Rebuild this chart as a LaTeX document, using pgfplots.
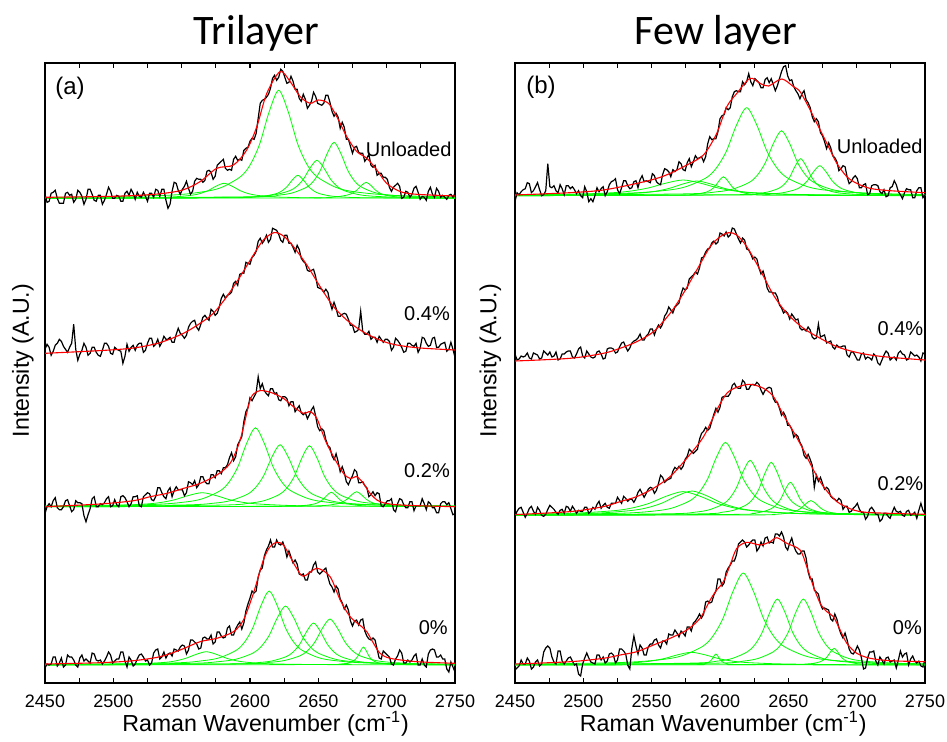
\documentclass[border=0pt]{standalone}
\usepackage{pgfplots}
\pgfplotsset{compat=1.18}
\usepackage{pgfplotstable}
\usepackage{fontspec}
\setmainfont{Liberation Sans}
\newfontfamily\titlefont{Carlito}
\definecolor{compgreen}{RGB}{0,255,0}

% measured spectra, px above each trace's baseline: a=Unloaded b=0.4% c=0.2% d=0%
\pgfplotstableread{
x a b c d
2450 4 4 -7 -3
2451.5 -4 9 0 1
2453 -3 6 3 0
2454.5 5 -2 0 1
2456 6 2 6 8
2457.5 8 8 9 8
2459 0 10 -1 -1
2460.5 -5 14 -3 2
2462 -5 12 -3 7
2463.5 -5 7 0 -2
2465 5 4 6 0
2466.5 6 1 7 10
2468 3 6 1 8
2469.5 4 10 -5 8
2471 -4 29 -3 5
2472.5 -1 4 6 0
2474 8 -7 4 -2
2475.5 6 -1 4 7
2477 2 3 3 10
2478.5 -6 10 -9 4
2480 -1 6 -15 6
2481.5 9 -2 -8 4
2483 9 0 -2 2
2484.5 4 6 8 12
2486 -2 6 10 11
2487.5 -3 1 0 5
2489 3 -2 0 4
2490.5 3 -3 3 5
2492 -6 3 2 1
2493.5 -2 10 4 4
2495 4 10 8 8
2496.5 11 7 10 13
2498 7 0 0 10
2499.5 0 -1 1 2
2501 0 6 7 4
2502.5 3 4 2 6
2504 2 3 0 6
2505.5 -3 2 10 13
2507 -3 -10 11 13
2508.5 5 -3 9 4
2510 7 9 5 -2
2511.5 3 2 0 8
2513 9 6 3 5
2514.5 5 8 10 -1
2516 -1 3 10 1
2517.5 6 8 11 6
2519 2 10 1 10
2520.5 1 10 0 11
2522 6 1 10 8
2523.5 2 3 12 4
2525 -3 10 14 5
2526.5 5 15 13 0
2528 5 15 7 2
2529.5 1 7 6 12
2531 9 9 10 15
2532.5 8 14 19 16
2534 2 7 19 6
2535.5 9 11 14 8
2537 9 17 10 13
2538.5 -2 14 8 7
2540 -10 14 16 11
2541.5 -6 16 19 12
2543 7 11 10 9
2544.5 16 11 16 16
2546 15 19 20 15
2547.5 8 25 17 14
2549 4 20 17 18
2550.5 9 18 17 20
2552 12 15 11 19
2553.5 17 18 14 11
2555 10 26 25 15
2556.5 4 30 24 25
2558 7 32 22 25
2559.5 17 33 26 23
2561 20 26 19 21
2562.5 19 23 22 16
2564 19 29 30 17
2565.5 16 36 30 27
2567 18 38 25 28
2568.5 27 35 23 26
2570 28 33 23 26
2571.5 26 44 32 30
2573 19 42 32 21
2574.5 22 38 29 23
2576 33 40 36 33
2577.5 35 46 36 33
2579 37 55 33 29
2580.5 39 59 39 27
2582 30 55 39 28
2583.5 28 58 42 37
2585 29 59 49 39
2586.5 28 61 54 30
2588 39 70 46 30
2589.5 42 72 50 36
2591 38 68 62 40
2592.5 39 79 66 43
2594 38 80 70 36
2595.5 48 80 85 42
2597 50 91 95 54
2598.5 51 90 99 61
2600 57 89 109 67
2601.5 60 96 106 74
2603 59 98 110 72
2604.5 65 102 114 74
2606 80 112 130 88
2607.5 95 115 118 95
2609 98 110 123 97
2610.5 99 113 116 109
2612 101 118 113 115
2613.5 104 111 111 119
2615 110 114 118 125
2616.5 120 125 118 118
2618 123 124 113 118
2619.5 118 123 114 125
2621 121 119 107 121
2622.5 129 113 106 120
2624 127 111 110 123
2625.5 121 118 110 117
2627 115 118 108 108
2628.5 116 110 101 114
2630 122 110 105 108
2631.5 117 106 105 102
2633 109 101 95 105
2634.5 109 108 98 101
2636 100 104 101 91
2637.5 97 95 94 90
2639 104 92 92 91
2640.5 99 90 94 85
2642 90 83 88 85
2643.5 93 82 92 93
2645 97 83 97 93
2646.5 106 84 100 100
2648 102 77 91 103
2649.5 95 66 80 93
2651 94 65 76 91
2652.5 93 64 78 93
2654 95 61 76 95
2655.5 103 64 67 97
2657 103 61 61 88
2658.5 96 51 59 81
2660 87 44 51 78
2661.5 82 51 47 73
2663 85 45 53 79
2664.5 81 37 45 76
2666 70 37 35 66
2667.5 76 39 40 62
2669 71 40 34 56
2670.5 59 39 25 60
2672 59 34 22 55
2673.5 52 28 27 44
2675 45 28 31 39
2676.5 51 21 37 44
2678 52 22 35 45
2679.5 46 24 24 40
2681 45 42 24 45
2682.5 45 22 25 46
2684 37 19 21 34
2685.5 40 19 19 29
2687 44 22 10 26
2688.5 33 14 12 25
2690 31 16 15 27
2691.5 33 16 11 25
2693 23 11 14 16
2694.5 25 17 13 7
2696 25 14 1 6
2697.5 21 11 0 14
2699 21 14 3 12
2700.5 19 14 6 10
2702 11 12 6 8
2703.5 7 3 8 1
2705 11 6 -3 0
2706.5 13 15 -5 6
2708 15 13 3 9
2709.5 12 10 8 15
2711 0 6 7 12
2712.5 1 1 2 2
2714 7 2 -1 2
2715.5 6 10 -1 5
2717 1 10 5 3
2718.5 4 8 5 5
2720 10 7 -4 9
2721.5 12 10 1 11
2723 6 1 1 0
2724.5 -1 5 1 0
2726 2 16 8 6
2727.5 1 15 3 0
2729 -2 10 -3 -2
2730.5 7 7 5 11
2732 11 8 3 15
2733.5 4 15 -1 16
2735 1 16 -1 15
2736.5 10 6 -6 8
2738 7 6 -6 8
2739.5 1 9 3 10
2741 3 10 5 6
2742.5 1 11 5 6
2744 -1 2 2 -4
2745.5 3 4 4 -7
2747 4 11 -2 3
2748.5 1 4 -8 -2
2750 5 -4 -7 -7
}\rawTri

\pgfplotstableread{
x a b c d
2450 -6 7 -1 -5
2451.5 3 1 4 -3
2453 1 2 7 -1
2454.5 4 5 8 5
2456 6 4 3 1
2457.5 7 5 -2 1
2459 13 8 2 7
2460.5 12 3 7 4
2462 3 2 9 -4
2463.5 5 8 4 -2
2465 9 7 1 3
2466.5 13 6 8 5
2468 6 2 5 -1
2469.5 0 3 0 1
2471 1 10 -1 13
2472.5 5 8 1 17
2474 32 6 6 19
2475.5 9 9 10 17
2477 8 4 8 8
2478.5 10 5 6 3
2480 5 9 3 1
2481.5 3 1 1 14
2483 11 2 5 14
2484.5 7 7 6 4
2486 1 7 2 1
2487.5 10 9 9 4
2489 10 10 8 7
2490.5 7 10 4 8
2492 9 4 9 4
2493.5 6 3 6 0
2495 2 7 2 1
2496.5 5 12 5 -9
2498 0 14 4 -11
2499.5 -2 5 4 1
2501 9 3 8 7
2502.5 4 10 8 12
2504 -6 7 2 7
2505.5 -3 4 4 3
2507 -6 3 8 2
2508.5 0 4 6 1
2510 8 9 11 10
2511.5 4 10 14 10
2513 7 7 7 5
2514.5 9 2 10 8
2516 0 3 12 2
2517.5 4 12 8 4
2519 11 13 7 11
2520.5 14 13 12 12
2522 15 12 12 10
2523.5 17 8 12 2
2525 6 9 18 5
2526.5 2 14 15 16
2528 8 18 12 16
2529.5 15 19 19 14
2531 15 14 17 11
2532.5 10 10 14 0
2534 7 13 16 -4
2535.5 8 18 16 17
2537 14 20 13 29
2538.5 15 21 17 19
2540 8 23 23 11
2541.5 16 27 26 20
2543 20 21 22 17
2544.5 14 21 18 10
2546 15 25 22 10
2547.5 14 27 26 18
2549 13 32 28 21
2550.5 22 32 27 21
2552 20 26 22 25
2553.5 14 32 25 26
2555 12 36 32 20
2556.5 11 33 40 17
2558 21 37 38 24
2559.5 27 45 33 24
2561 26 48 35 21
2562.5 24 54 36 31
2564 19 51 37 30
2565.5 26 48 44 30
2567 24 54 48 35
2568.5 26 56 46 32
2570 34 58 49 28
2571.5 32 67 46 34
2573 26 73 49 32
2574.5 25 71 56 29
2576 33 73 59 38
2577.5 37 82 66 38
2579 29 84 64 34
2580.5 34 86 62 42
2582 40 89 64 44
2583.5 37 87 66 47
2585 38 93 76 51
2586.5 39 103 82 47
2588 34 104 84 51
2589.5 39 109 88 63
2591 52 112 85 64
2592.5 59 113 87 62
2594 56 118 94 63
2595.5 57 120 101 70
2597 57 117 107 74
2598.5 64 119 103 86
2600 77 128 108 86
2601.5 80 127 118 79
2603 81 125 119 82
2604.5 88 129 119 93
2606 86 124 119 97
2607.5 88 126 122 100
2609 99 133 130 104
2610.5 104 132 132 104
2612 105 127 128 110
2613.5 104 122 127 121
2615 104 118 127 123
2616.5 114 123 135 125
2618 111 121 133 123
2619.5 114 112 126 118
2621 122 111 126 120
2622.5 114 107 130 123
2624 110 102 131 125
2625.5 117 104 130 125
2627 115 102 133 114
2628.5 113 93 131 117
2630 108 87 125 123
2631.5 108 90 121 119
2633 116 83 125 127
2634.5 118 73 127 128
2636 113 69 128 122
2637.5 117 69 127 123
2639 111 68 117 122
2640.5 105 68 113 131
2642 110 64 113 131
2643.5 117 56 107 129
2645 124 53 100 133
2646.5 129 48 103 128
2648 130 50 99 118
2649.5 120 48 90 115
2651 115 42 90 122
2652.5 116 47 86 127
2654 109 44 78 119
2655.5 105 41 81 114
2657 102 42 79 111
2658.5 97 33 73 111
2660 102 31 69 114
2661.5 105 32 60 114
2663 96 30 57 107
2664.5 93 34 61 93
2666 88 31 56 86
2667.5 79 24 50 86
2669 74 22 28 75
2670.5 77 23 40 73
2672 74 37 34 71
2673.5 63 24 38 61
2675 60 25 32 56
2676.5 54 26 26 57
2678 47 18 28 56
2679.5 53 19 26 55
2681 48 20 19 46
2682.5 40 14 17 44
2684 38 12 16 51
2685.5 34 16 14 46
2687 25 14 17 37
2688.5 27 14 15 31
2690 30 15 6 27
2691.5 29 15 9 32
2693 19 6 9 25
2694.5 12 4 3 16
2696 14 9 4 12
2697.5 18 9 7 11
2699 20 5 9 14
2700.5 17 1 12 19
2702 8 1 6 15
2703.5 8 7 3 7
2705 11 8 3 -4
2706.5 12 2 -4 -3
2708 1 4 -1 7
2709.5 2 3 6 13
2711 10 1 8 13
2712.5 11 7 5 14
2714 11 5 1 4
2715.5 10 -2 1 0
2717 4 -4 -6 8
2718.5 2 1 -4 5
2720 6 6 2 1
2721.5 -1 10 2 7
2723 0 8 -1 8
2724.5 8 1 -3 3
2726 9 3 3 4
2727.5 15 4 8 5
2729 11 1 4 -3
2730.5 4 8 3 5
2732 1 10 4 14
2733.5 -3 7 0 8
2735 3 6 -1 11
2736.5 7 1 4 12
2738 6 2 5 0
2739.5 6 9 0 6
2741 -2 7 1 9
2742.5 -2 5 3 4
2744 5 6 -3 2
2745.5 8 4 5 4
2747 8 0 12 -1
2748.5 -2 8 5 -2
2750 1 7 2 6
}\rawFew

\tikzset{note/.style={font=\fontsize{10}{12}\selectfont, inner sep=0pt}}

\begin{document}
\begin{tikzpicture}
\pgfplotsset{
  spectra/.style={
    scale only axis, width=205pt, height=310pt,
    xmin=2450, xmax=2750, ymin=0, ymax=620,
    xtick={2450,2500,2550,2600,2650,2700,2750},
    xticklabels={2450,2500,2550,2600,2650,2700,2750},
    minor x tick num=1,
    ytick=\empty,
    tick align=inside,
    major tick length=2.5pt, minor tick length=2.5pt,
    tick style={black, line width=0.6pt},
    axis line style={line width=0.8pt},
    xticklabel shift=6pt,
    xlabel={Raman Wavenumber (cm\textsuperscript{-1})},
    ylabel={Intensity (A.U.)},
  },
  raw/.style={black, line width=0.6pt},
  fit/.style={red, line width=0.55pt, smooth},
  comp/.style={compgreen, line width=0.4pt, smooth},
}

% ---------------- Trilayer ----------------
\begin{axis}[spectra, at={(0pt,0pt)},
  xticklabel style={font=\fontsize{9}{10}\selectfont, inner sep=0pt},
  every axis title/.style={at={(0.516,1)}, anchor=base, yshift=9.5pt,
    font=\titlefont\fontsize{21}{24}\selectfont},
  title={Trilayer},
  every axis x label/.style={at={(axis description cs:0.538,0)}, anchor=base, yshift=-24pt,
    inner sep=0pt, font=\fontsize{11.6}{14}\selectfont},
  every axis y label/.style={at={(axis description cs:-0.054,0.52)}, rotate=90, anchor=center,
    font=\fontsize{11.6}{14}\selectfont},
]
% Unloaded components
\addplot[comp] table[row sep=\\, y expr=\thisrow{y}+484.7] {x y\\2450 0.1\\2509 0.4\\2533 0.9\\2545 1.5\\2557 3\\2563 4.6\\2569 7.5\\2575 12\\2581 15\\2587 12\\2593 7.5\\2599 4.6\\2605 3\\2617 1.5\\2629 0.9\\2653 0.4\\2750 0.1\\};
\addplot[comp] table[row sep=\\, y expr=\thisrow{y}+484.7] {x y\\2450 0.7\\2537 2.9\\2565 6.4\\2579 10.8\\2593 21.6\\2600 33.2\\2607 54\\2614 86.4\\2621 108\\2628 86.4\\2635 54\\2642 33.2\\2649 21.6\\2663 10.8\\2677 6.4\\2705 2.9\\2750 1.3\\};
\addplot[comp] table[row sep=\\, y expr=\thisrow{y}+484.7] {x y\\2450 0\\2587 0.6\\2603 1.4\\2611 2.3\\2619 4.6\\2623 7.1\\2627 11.5\\2631 18.4\\2635 23\\2639 18.4\\2643 11.5\\2647 7.1\\2651 4.6\\2659 2.3\\2667 1.4\\2683 0.6\\2750 0.1\\};
\addplot[comp] table[row sep=\\, y expr=\thisrow{y}+484.7] {x y\\2450 0.1\\2589 1\\2609 2.2\\2619 3.8\\2629 7.6\\2634 11.7\\2639 19\\2644 30.4\\2649 38\\2654 30.4\\2659 19\\2664 11.7\\2669 7.6\\2679 3.8\\2689 2.2\\2709 1\\2750 0.4\\};
\addplot[comp] table[row sep=\\, y expr=\thisrow{y}+484.7] {x y\\2450 0.1\\2601.5 1.5\\2621.5 3.3\\2631.5 5.6\\2641.5 11.2\\2646.5 17.2\\2651.5 28\\2656.5 44.8\\2661.5 56\\2666.5 44.8\\2671.5 28\\2676.5 17.2\\2681.5 11.2\\2691.5 5.6\\2701.5 3.3\\2721.5 1.5\\2750 0.7\\};
\addplot[comp] table[row sep=\\, y expr=\thisrow{y}+484.7] {x y\\2450 0\\2643 0.4\\2657 0.9\\2664 1.6\\2671 3.2\\2674.5 4.9\\2678 8\\2681.5 12.8\\2685 16\\2688.5 12.8\\2692 8\\2695.5 4.9\\2699 3.2\\2706 1.6\\2713 0.9\\2727 0.4\\2750 0.2\\};
% 0.2% components
\addplot[comp] table[row sep=\\, y expr=\thisrow{y}+176.3] {x y\\2450 0.4\\2485 0.8\\2505 1.4\\2525 2.8\\2535 4.3\\2545 7\\2555 11.2\\2565 14\\2575 11.2\\2585 7\\2595 4.3\\2605 2.8\\2625 1.4\\2645 0.8\\2685 0.4\\2750 0.2\\};
\addplot[comp] table[row sep=\\, y expr=\thisrow{y}+176.3] {x y\\2450 0.6\\2526 2.1\\2552 4.6\\2565 7.9\\2578 15.8\\2584.5 24.3\\2591 39.5\\2597.5 63.2\\2604 79\\2610.5 63.2\\2617 39.5\\2623.5 24.3\\2630 15.8\\2643 7.9\\2656 4.6\\2682 2.1\\2750 0.6\\};
\addplot[comp] table[row sep=\\, y expr=\thisrow{y}+176.3] {x y\\2450 0.3\\2550 1.7\\2574 3.6\\2586 6.2\\2598 12.4\\2604 19.1\\2610 31\\2616 49.6\\2622 62\\2628 49.6\\2634 31\\2640 19.1\\2646 12.4\\2658 6.2\\2670 3.6\\2694 1.7\\2750 0.5\\};
\addplot[comp] table[row sep=\\, y expr=\thisrow{y}+176.3] {x y\\2450 0.2\\2577.5 1.6\\2599.5 3.6\\2610.5 6.1\\2621.5 12.2\\2627 18.8\\2632.5 30.5\\2638 48.8\\2643.5 61\\2649 48.8\\2654.5 30.5\\2660 18.8\\2665.5 12.2\\2676.5 6.1\\2687.5 3.6\\2709.5 1.6\\2750 0.6\\};
\addplot[comp] table[row sep=\\, y expr=\thisrow{y}+176.3] {x y\\2450 0\\2623.5 0.4\\2635.5 0.9\\2641.5 1.5\\2647.5 2.9\\2650.5 4.5\\2653.5 7.3\\2656.5 11.6\\2659.5 14.5\\2662.5 11.6\\2665.5 7.3\\2668.5 4.5\\2671.5 2.9\\2677.5 1.5\\2683.5 0.9\\2695.5 0.4\\2750 0.1\\};
\addplot[comp] table[row sep=\\, y expr=\thisrow{y}+176.3] {x y\\2450 0\\2636 0.4\\2650 0.9\\2657 1.5\\2664 3\\2667.5 4.6\\2671 7.5\\2674.5 12\\2678 15\\2681.5 12\\2685 7.5\\2688.5 4.6\\2692 3\\2699 1.5\\2706 0.9\\2720 0.4\\2750 0.1\\};
% 0% components
\addplot[comp] table[row sep=\\, y expr=\thisrow{y}+18] {x y\\2450 0.2\\2478 0.4\\2508 0.8\\2523 1.3\\2538 2.7\\2545.5 4.1\\2553 6.7\\2560.5 10.6\\2568 13.3\\2575.5 10.6\\2583 6.7\\2590.5 4.1\\2598 2.7\\2613 1.3\\2628 0.8\\2658 0.4\\2750 0.1\\};
\addplot[comp] table[row sep=\\, y expr=\thisrow{y}+18] {x y\\2450 0.4\\2542 2\\2566 4.4\\2578 7.4\\2590 14.8\\2596 22.8\\2602 37\\2608 59.2\\2614 74\\2620 59.2\\2626 37\\2632 22.8\\2638 14.8\\2650 7.4\\2662 4.4\\2686 2\\2750 0.6\\};
\addplot[comp] table[row sep=\\, y expr=\thisrow{y}+18] {x y\\2450 0.3\\2554 1.6\\2578 3.5\\2590 5.9\\2602 11.8\\2608 18.2\\2614 29.5\\2620 47.2\\2626 59\\2632 47.2\\2638 29.5\\2644 18.2\\2650 11.8\\2662 5.9\\2674 3.5\\2698 1.6\\2750 0.6\\};
\addplot[comp] table[row sep=\\, y expr=\thisrow{y}+18] {x y\\2450 0.1\\2586.5 1.1\\2606.5 2.5\\2616.5 4.2\\2626.5 8.4\\2631.5 12.9\\2636.5 21\\2641.5 33.6\\2646.5 42\\2651.5 33.6\\2656.5 21\\2661.5 12.9\\2666.5 8.4\\2676.5 4.2\\2686.5 2.5\\2706.5 1.1\\2750 0.4\\};
\addplot[comp] table[row sep=\\, y expr=\thisrow{y}+18] {x y\\2450 0.1\\2592.5 1.2\\2614.5 2.7\\2625.5 4.6\\2636.5 9.2\\2642 14.2\\2647.5 23\\2653 36.8\\2658.5 46\\2664 36.8\\2669.5 23\\2675 14.2\\2680.5 9.2\\2691.5 4.6\\2702.5 2.7\\2724.5 1.2\\2750 0.7\\};
\addplot[comp] table[row sep=\\, y expr=\thisrow{y}+18] {x y\\2450 0\\2659 0.5\\2667 1.1\\2671 1.8\\2675 3.6\\2677 5.5\\2679 9\\2681 14.4\\2683 18\\2685 14.4\\2687 9\\2689 5.5\\2691 3.6\\2695 1.8\\2699 1.1\\2707 0.5\\2750 0.1\\};
% measured traces
\addplot[raw] table[x=x, y expr=\thisrow{a}+484.7] {\rawTri};
\addplot[raw] table[x=x, y expr=\thisrow{b}+329.7] {\rawTri};
\addplot[raw] table[x=x, y expr=\thisrow{c}+176.3] {\rawTri};
\addplot[raw] table[x=x, y expr=\thisrow{d}+18] {\rawTri};
% fitted envelopes
\addplot[fit] table[row sep=\\, y expr=\thisrow{y}+484.7] {x y\\2450 1\\2500 2\\2530 4\\2550 8\\2563.5 16.7\\2575.7 30\\2587.9 33.3\\2597.6 48.3\\2605 71.7\\2612.3 105\\2622 126.7\\2629.4 116.7\\2636.7 101.7\\2644 95\\2650 98.3\\2657.4 95\\2663.5 81.7\\2670.8 61.7\\2678.2 46.7\\2685.5 40\\2692.8 28.3\\2700 15\\2710 6.7\\2722 4\\2750 2.3\\};
\addplot[fit] table[row sep=\\, y expr=\thisrow{y}+329.7] {x y\\2450 0\\2490.3 2.7\\2514.7 5.3\\2534.2 10.7\\2551.3 20\\2563.5 30\\2573.2 40\\2583 56.7\\2592.8 76.7\\2602.5 98.3\\2609.8 113.3\\2617.6 120.7\\2624.5 117.3\\2631.8 106.7\\2641.6 88.3\\2651.3 66.7\\2661.1 46.7\\2670.8 33.3\\2680.6 23.3\\2690.4 16\\2700.1 10.7\\2709.9 7.7\\2724.5 5.3\\2750 3.3\\};
\addplot[fit] table[row sep=\\, y expr=\thisrow{y}+176.3] {x y\\2450 0\\2490.3 2.7\\2514.7 6\\2526.9 10\\2539.1 13.3\\2551.3 18.3\\2563.5 23.3\\2575.7 31.7\\2585.4 43.3\\2592.8 66.7\\2600.1 106.7\\2605 115\\2609.8 116\\2617.2 113.3\\2624.5 108.3\\2631.8 100\\2639.1 93.3\\2644 95\\2648.9 88.3\\2655 66.7\\2661.1 50\\2668.4 33.3\\2673.3 28.3\\2678.2 30\\2683 23.3\\2687.9 13.3\\2695.2 5\\2709.9 1.7\\2750 0\\};
\addplot[fit] table[row sep=\\, y expr=\thisrow{y}+18] {x y\\2450 1\\2490.3 2.3\\2514.7 4.3\\2534.2 8.3\\2548.8 15\\2563.5 23.3\\2575.7 26.7\\2587.9 33.3\\2595.2 45\\2602.5 71.7\\2609.8 105\\2614.7 118.3\\2619.6 122.7\\2624.5 120\\2629.4 108.3\\2634 97\\2639.1 88.7\\2648.9 96.7\\2658.6 88.3\\2666 65\\2673.3 48.3\\2681.8 38.3\\2685.5 33.3\\2690.4 21.7\\2695.2 11.7\\2702.6 6.7\\2722.1 3.3\\2750 1.7\\};
\node[font=\fontsize{12}{14}\selectfont, inner sep=0pt, anchor=west] at (axis cs:2457.3,594.7) {(a)};
\node[note, anchor=east] at (axis cs:2747.7,534) {Unloaded};
\node[note, anchor=east] at (axis cs:2746.5,369) {0.4\%};
\node[note, anchor=east] at (axis cs:2746.5,212.3) {0.2\%};
\node[note, anchor=east] at (axis cs:2745,55) {0\%};
\end{axis}

% ---------------- Few layer ----------------
\begin{axis}[spectra, at={(235pt,0pt)},
  xticklabel style={font=\fontsize{9}{10}\selectfont, inner sep=0pt},
  every axis title/.style={at={(0.49,1)}, anchor=base, yshift=9.5pt,
    font=\titlefont\fontsize{21}{24}\selectfont},
  title={Few layer},
  every axis x label/.style={at={(axis description cs:0.508,0)}, anchor=base, yshift=-24pt,
    inner sep=0pt, font=\fontsize{11.6}{14}\selectfont},
  every axis y label/.style={at={(axis description cs:-0.06,0.52)}, rotate=90, anchor=center,
    font=\fontsize{11.6}{14}\selectfont},
]
% Unloaded components
\addplot[comp] table[row sep=\\, y expr=\thisrow{y}+487.3] {x y\\2450 0.6\\2473 0.9\\2498 1.6\\2523 3.1\\2535.5 4.8\\2548 7.9\\2560.5 12.6\\2573 15.7\\2585.5 12.6\\2598 7.9\\2610.5 4.8\\2623 3.1\\2648 1.6\\2673 0.9\\2723 0.4\\2750 0.3\\};
\addplot[comp] table[row sep=\\, y expr=\thisrow{y}+487.3] {x y\\2450 0.3\\2463 0.4\\2503 0.9\\2523 1.5\\2543 2.9\\2553 4.5\\2563 7.4\\2573 11.8\\2583 14.7\\2593 11.8\\2603 7.4\\2613 4.5\\2623 2.9\\2643 1.5\\2663 0.9\\2703 0.4\\2750 0.2\\};
\addplot[comp] table[row sep=\\, y expr=\thisrow{y}+487.3] {x y\\2450 0\\2566.5 0.5\\2578.5 1.1\\2584.5 1.9\\2590.5 3.8\\2593.5 5.9\\2596.5 9.5\\2599.5 15.2\\2602.5 19\\2605.5 15.2\\2608.5 9.5\\2611.5 5.9\\2614.5 3.8\\2620.5 1.9\\2626.5 1.1\\2638.5 0.5\\2750 0\\};
\addplot[comp] table[row sep=\\, y expr=\thisrow{y}+487.3] {x y\\2450 0.7\\2529.5 2.4\\2559.5 5.2\\2574.5 8.8\\2589.5 17.6\\2597 27.1\\2604.5 44\\2612 70.4\\2619.5 88\\2627 70.4\\2634.5 44\\2642 27.1\\2649.5 17.6\\2664.5 8.8\\2679.5 5.2\\2709.5 2.4\\2750 1.2\\};
\addplot[comp] table[row sep=\\, y expr=\thisrow{y}+487.3] {x y\\2450 0.3\\2573 1.8\\2597 3.8\\2609 6.5\\2621 13\\2627 20\\2633 32.5\\2639 52\\2645 65\\2651 52\\2657 32.5\\2663 20\\2669 13\\2681 6.5\\2693 3.8\\2717 1.8\\2750 0.8\\};
\addplot[comp] table[row sep=\\, y expr=\thisrow{y}+487.3] {x y\\2450 0\\2611 1\\2627 2.2\\2635 3.7\\2643 7.4\\2647 11.4\\2651 18.5\\2655 29.6\\2659 37\\2663 29.6\\2667 18.5\\2671 11.4\\2675 7.4\\2683 3.7\\2691 2.2\\2707 1\\2750 0.3\\};
\addplot[comp] table[row sep=\\, y expr=\thisrow{y}+487.3] {x y\\2450 0\\2619 0.8\\2637 1.8\\2646 3\\2655 6\\2659.5 9.2\\2664 15\\2668.5 24\\2673 30\\2677.5 24\\2682 15\\2686.5 9.2\\2691 6\\2700 3\\2709 1.8\\2727 0.8\\2750 0.4\\};
% 0.2% components
\addplot[comp] table[row sep=\\, y expr=\thisrow{y}+167.7] {x y\\2450 0.9\\2473 1.4\\2498 2.4\\2523 4.7\\2535.5 7.3\\2548 11.9\\2560.5 19\\2573 23.7\\2585.5 19\\2598 11.9\\2610.5 7.3\\2623 4.7\\2648 2.4\\2673 1.4\\2723 0.6\\2750 0.5\\};
\addplot[comp] table[row sep=\\, y expr=\thisrow{y}+167.7] {x y\\2450 0.7\\2491.5 1.4\\2513.5 2.4\\2535.5 4.9\\2546.5 7.5\\2557.5 12.2\\2568.5 19.4\\2579.5 24.3\\2590.5 19.4\\2601.5 12.2\\2612.5 7.5\\2623.5 4.9\\2645.5 2.4\\2667.5 1.4\\2711.5 0.7\\2750 0.4\\};
\addplot[comp] table[row sep=\\, y expr=\thisrow{y}+167.7] {x y\\2450 0.5\\2526 2\\2552 4.3\\2565 7.3\\2578 14.6\\2584.5 22.5\\2591 36.5\\2597.5 58.4\\2604 73\\2610.5 58.4\\2617 36.5\\2623.5 22.5\\2630 14.6\\2643 7.3\\2656 4.3\\2682 2\\2750 0.6\\};
\addplot[comp] table[row sep=\\, y expr=\thisrow{y}+167.7] {x y\\2450 0.2\\2562 1.5\\2582 3.2\\2592 5.5\\2602 11\\2607 16.9\\2612 27.5\\2617 44\\2622 55\\2627 44\\2632 27.5\\2637 16.9\\2642 11\\2652 5.5\\2662 3.2\\2682 1.5\\2750 0.3\\};
\addplot[comp] table[row sep=\\, y expr=\thisrow{y}+167.7] {x y\\2450 0.1\\2583.5 1.4\\2601.5 3.1\\2610.5 5.3\\2619.5 10.6\\2624 16.3\\2628.5 26.5\\2633 42.4\\2637.5 53\\2642 42.4\\2646.5 26.5\\2651 16.3\\2655.5 10.6\\2664.5 5.3\\2673.5 3.1\\2691.5 1.4\\2750 0.3\\};
\addplot[comp] table[row sep=\\, y expr=\thisrow{y}+167.7] {x y\\2450 0\\2609.5 0.9\\2623.5 1.9\\2630.5 3.3\\2637.5 6.6\\2641 10.2\\2644.5 16.5\\2648 26.4\\2651.5 33\\2655 26.4\\2658.5 16.5\\2662 10.2\\2665.5 6.6\\2672.5 3.3\\2679.5 1.9\\2693.5 0.9\\2750 0.2\\};
\addplot[comp] table[row sep=\\, y expr=\thisrow{y}+167.7] {x y\\2450 0\\2624.5 0.4\\2638.5 0.9\\2645.5 1.5\\2652.5 2.9\\2656 4.5\\2659.5 7.4\\2663 11.8\\2666.5 14.7\\2670 11.8\\2673.5 7.4\\2677 4.5\\2680.5 2.9\\2687.5 1.5\\2694.5 0.9\\2708.5 0.4\\2750 0.1\\};
% 0% components
\addplot[comp] table[row sep=\\, y expr=\thisrow{y}+18] {x y\\2450 0.3\\2499 0.8\\2519 1.3\\2539 2.5\\2549 3.9\\2559 6.4\\2569 10.2\\2579 12.7\\2589 10.2\\2599 6.4\\2609 3.9\\2619 2.5\\2639 1.3\\2659 0.8\\2699 0.3\\2750 0.2\\};
\addplot[comp] table[row sep=\\, y expr=\thisrow{y}+18] {x y\\2450 0\\2579 0.3\\2585 0.7\\2588 1.1\\2591 2.2\\2592.5 3.4\\2594 5.5\\2595.5 8.8\\2597 11\\2598.5 8.8\\2600 5.5\\2601.5 3.4\\2603 2.2\\2606 1.1\\2609 0.7\\2615 0.3\\2750 0\\};
\addplot[comp] table[row sep=\\, y expr=\thisrow{y}+18] {x y\\2450 0.7\\2527 2.5\\2557 5.4\\2572 9.2\\2587 18.4\\2594.5 28.3\\2602 46\\2609.5 73.6\\2617 92\\2624.5 73.6\\2632 46\\2639.5 28.3\\2647 18.4\\2662 9.2\\2677 5.4\\2707 2.5\\2750 1.2\\};
\addplot[comp] table[row sep=\\, y expr=\thisrow{y}+18] {x y\\2450 0.2\\2576 1.8\\2598 3.9\\2609 6.6\\2620 13.2\\2625.5 20.3\\2631 33\\2636.5 52.8\\2642 66\\2647.5 52.8\\2653 33\\2658.5 20.3\\2664 13.2\\2675 6.6\\2686 3.9\\2708 1.8\\2750 0.7\\};
\addplot[comp] table[row sep=\\, y expr=\thisrow{y}+18] {x y\\2450 0.2\\2595 1.8\\2617 3.9\\2628 6.6\\2639 13.2\\2644.5 20.3\\2650 33\\2655.5 52.8\\2661 66\\2666.5 52.8\\2672 33\\2677.5 20.3\\2683 13.2\\2694 6.6\\2705 3.9\\2727 1.8\\2750 1\\};
\addplot[comp] table[row sep=\\, y expr=\thisrow{y}+18] {x y\\2450 0\\2653.5 0.5\\2663.5 1\\2668.5 1.7\\2673.5 3.3\\2676 5.1\\2678.5 8.4\\2681 13.4\\2683.5 16.7\\2686 13.4\\2688.5 8.4\\2691 5.1\\2693.5 3.3\\2698.5 1.7\\2703.5 1\\2713.5 0.5\\2750 0.1\\};
% measured traces
\addplot[raw] table[x=x, y expr=\thisrow{a}+487.3] {\rawFew};
\addplot[raw] table[x=x, y expr=\thisrow{b}+322] {\rawFew};
\addplot[raw] table[x=x, y expr=\thisrow{c}+167.7] {\rawFew};
\addplot[raw] table[x=x, y expr=\thisrow{d}+18] {\rawFew};
% fitted envelopes
\addplot[fit] table[row sep=\\, y expr=\thisrow{y}+487.3] {x y\\2450 0.7\\2490.3 3\\2514.7 5.7\\2539.1 12.3\\2553.7 17.3\\2563.5 22.3\\2575.7 30.7\\2587.9 40.7\\2597.6 62.3\\2605 89\\2612.3 102.3\\2622 117.3\\2629.4 112.3\\2635.5 109.7\\2645.2 116.7\\2653.8 109\\2658.6 104\\2666 85.7\\2673.3 65.7\\2680.6 45.7\\2685.5 32.3\\2692.8 19\\2700.1 12.3\\2709.9 7.3\\2724.5 5\\2750 3\\};
\addplot[fit] table[row sep=\\, y expr=\thisrow{y}+322] {x y\\2450 0\\2490.3 2.7\\2514.7 7.7\\2526.9 12.7\\2539.1 19.3\\2551.3 29.3\\2563.5 47.7\\2573.2 67.7\\2583 91\\2592.8 114.3\\2600.1 124.3\\2606.2 128.3\\2612.3 126\\2619.6 114.3\\2629.4 91\\2639.1 66\\2648.9 47.7\\2661.1 32.7\\2673.3 22.7\\2685.5 14.3\\2697.7 9.3\\2709.9 6\\2724.5 3.7\\2750 1\\};
\addplot[fit] table[row sep=\\, y expr=\thisrow{y}+167.7] {x y\\2450 0.7\\2490.3 3.7\\2514.7 8.7\\2526.9 13.7\\2539.1 18.7\\2551.3 27\\2563.5 38.7\\2575.7 57\\2588 78.7\\2597.6 105.3\\2605 122\\2612.3 128\\2622 131\\2631.8 127\\2639.1 118.7\\2646.4 100.3\\2653.7 83.7\\2661.1 65.3\\2668.4 45.3\\2675.7 28.7\\2685.5 13.7\\2697.7 5.3\\2709.9 2.7\\2750 1\\};
\addplot[fit] table[row sep=\\, y expr=\thisrow{y}+18] {x y\\2450 1\\2490.3 3.3\\2514.7 6.7\\2526.9 10\\2539.1 13.3\\2551.3 20\\2563.5 26.7\\2575.7 35\\2585.4 46.7\\2592.8 65\\2597.6 75\\2602.5 83.3\\2607.4 100\\2612.3 116.7\\2619.6 122.7\\2629.4 120\\2636.7 123.3\\2641.6 127.3\\2648.9 121.7\\2658.6 115\\2663.5 98.3\\2668.4 78.3\\2673.3 61.7\\2678.2 53.3\\2683 48.3\\2687.9 35\\2692.8 21.7\\2700.1 11.7\\2709.9 6.7\\2724.5 4.3\\2750 3.3\\};
\node[font=\fontsize{12}{14}\selectfont, inner sep=0pt, anchor=west] at (axis cs:2458,596) {(b)};
\node[note, anchor=east] at (axis cs:2748.5,536.3) {Unloaded};
\node[note, anchor=east] at (axis cs:2749,354) {0.4\%};
\node[note, anchor=east] at (axis cs:2749,199) {0.2\%};
\node[note, anchor=east] at (axis cs:2748,55.3) {0\%};
\end{axis}

\pgfresetboundingbox
\useasboundingbox (-22.5pt,-29pt) rectangle (451pt,341.5pt);
\end{tikzpicture}
\end{document}
